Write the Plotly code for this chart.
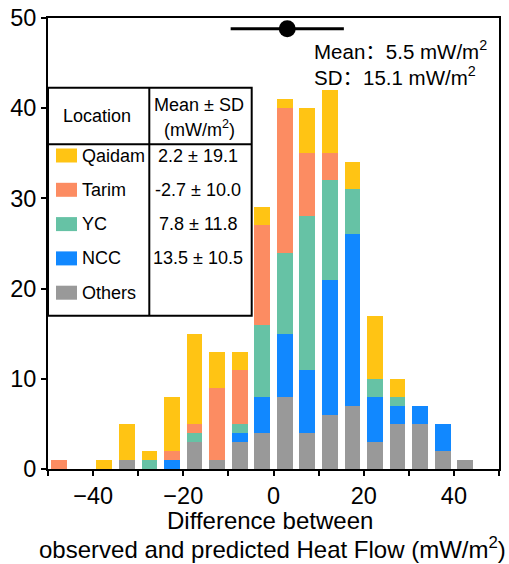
import plotly.graph_objects as go

# ---- data ----
bin_centers = [-47.5, -42.5, -37.5, -32.5, -27.5, -22.5, -17.5, -12.5, -7.5, -2.5,
               2.5, 7.5, 12.5, 17.5, 22.5, 27.5, 32.5, 37.5, 42.5, 47.5]
others = [0, 0, 0, 1, 0, 0, 3, 1, 3, 4, 8, 4, 6, 7, 3, 5, 5, 2, 1, 0]
ncc    = [0, 0, 0, 0, 0, 1, 0, 0, 1, 4, 7, 7, 15, 19, 5, 2, 2, 3, 0, 0]
yc     = [0, 0, 0, 0, 1, 0, 1, 0, 1, 8, 9, 17, 11, 5, 2, 1, 0, 0, 0, 0]
tarim  = [1, 0, 0, 0, 0, 1, 1, 8, 6, 11, 16, 7, 3, 0, 0, 0, 0, 0, 0, 0]
qaidam = [0, 0, 1, 4, 1, 6, 10, 4, 2, 2, 1, 5, 7, 3, 7, 2, 0, 0, 0, 0]

locations = ["Qaidam", "Tarim", "YC", "NCC", "Others"]
loc_stats = ["2.2 ± 19.1", "-2.7 ± 10.0", "7.8 ± 11.8", "13.5 ± 10.5", ""]
colors = {"Qaidam": "#FFC414", "Tarim": "#FC8C62", "YC": "#66C2A5",
          "NCC": "#1188FF", "Others": "#999999"}

overall_marker_x = [3.05]
overall_marker_y = [48.8]
overall_half_width = [12.55]

x_tickvals = [-40, -20, 0, 20, 40]
x_minor_ticks = [-50, -30, -10, 10, 30, 50]
y_tickvals = [0, 10, 20, 30, 40, 50]

FONT = "Liberation Sans, Arial, Noto Sans CJK SC, sans-serif"

fig = go.Figure()
series = [("Others", others), ("NCC", ncc), ("YC", yc), ("Tarim", tarim), ("Qaidam", qaidam)]
for name, vals in series:
    fig.add_trace(go.Bar(x=bin_centers, y=vals, name=name, width=3.5,
                         marker=dict(color=colors[name], line=dict(width=0)),
                         showlegend=False))

fig.add_trace(go.Scatter(x=overall_marker_x, y=overall_marker_y, mode="markers",
                         marker=dict(color="black", size=17),
                         error_x=dict(type="data", array=overall_half_width, symmetric=True,
                                      thickness=3, width=0, color="black"),
                         showlegend=False, cliponaxis=False))

# ---- layout geometry (screen pixels; body margin removed by post_script) ----
W, H = 509, 564
PL, PR, PT, PB = 48, 499, 18, 469          # plot area on screen
L, R, T, B = PL, W - PR, PT, H - PB
pw, ph = PR - PL, PB - PT


def px(x):
    return (x - PL) / pw


def py(y):
    return (PB - y) / ph


shapes = []
# table box
tx0, tx1, tdiv, ty0, ty1, thead = 48, 251.7, 149.3, 87.7, 315.7, 144.3
shapes.append(dict(type="rect", xref="paper", yref="paper", x0=px(tx0), x1=px(tx1),
                   y0=py(ty1), y1=py(ty0), line=dict(color="black", width=2),
                   fillcolor="white", layer="above"))
shapes.append(dict(type="line", xref="paper", yref="paper", x0=px(tdiv), x1=px(tdiv),
                   y0=py(ty1), y1=py(ty0), line=dict(color="black", width=2)))
shapes.append(dict(type="line", xref="paper", yref="paper", x0=px(tx0), x1=px(tx1),
                   y0=py(thead), y1=py(thead), line=dict(color="black", width=2)))

annotations = []
row_y = [155.5, 189.8, 224.1, 258.4, 292.7]
for i, name in enumerate(locations):
    yc_ = row_y[i]
    shapes.append(dict(type="rect", xref="paper", yref="paper", x0=px(56), x1=px(77),
                       y0=py(yc_ + 7), y1=py(yc_ - 7), line=dict(width=0),
                       fillcolor=colors[name], layer="above"))
    annotations.append(dict(text=name, xref="paper", yref="paper", x=px(80), y=py(yc_),
                            xanchor="left", yanchor="middle", showarrow=False,
                            font=dict(family=FONT, size=18, color="black")))
    if loc_stats[i]:
        annotations.append(dict(text=loc_stats[i], xref="paper", yref="paper", x=px(198),
                                y=py(yc_), xanchor="center", yanchor="middle", showarrow=False,
                                font=dict(family=FONT, size=18, color="black")))

annotations.append(dict(text="Location", xref="paper", yref="paper", x=px(96.5), y=py(116.5),
                        xanchor="center", yanchor="middle", showarrow=False,
                        font=dict(family=FONT, size=18, color="black")))
annotations.append(dict(text="Mean ± SD", xref="paper", yref="paper", x=px(199), y=py(105),
                        xanchor="center", yanchor="middle", showarrow=False,
                        font=dict(family=FONT, size=18, color="black")))
annotations.append(dict(text="(mW/m<sup>2</sup>)", xref="paper", yref="paper", x=px(199), y=py(128),
                        xanchor="center", yanchor="middle", showarrow=False,
                        font=dict(family=FONT, size=18, color="black")))

annotations.append(dict(text="Mean：5.5 mW/m<sup>2</sup>", xref="paper", yref="paper",
                        x=px(312), y=py(50), xanchor="left", yanchor="middle", showarrow=False,
                        font=dict(family=FONT, size=20.5, color="black")))
annotations.append(dict(text="SD：15.1 mW/m<sup>2</sup>", xref="paper", yref="paper",
                        x=px(312), y=py(76), xanchor="left", yanchor="middle", showarrow=False,
                        font=dict(family=FONT, size=20.5, color="black")))

annotations.append(dict(text="Difference between",
                        xref="paper", yref="paper", x=px(270), y=py(520), xanchor="center",
                        yanchor="middle", showarrow=False,
                        font=dict(family=FONT, size=24, color="black")))
annotations.append(dict(text="observed and predicted Heat Flow (mW/m<sup>2</sup>)",
                        xref="paper", yref="paper", x=px(272), y=py(548), xanchor="center",
                        yanchor="middle", showarrow=False,
                        font=dict(family=FONT, size=24, color="black")))

fig.update_layout(
    width=W, height=H, autosize=False,
    margin=dict(l=L, r=R, t=T, b=B, pad=0),
    barmode="stack",
    plot_bgcolor="white", paper_bgcolor="white",
    font=dict(family=FONT, size=22, color="black"),
    shapes=shapes, annotations=annotations,
    xaxis=dict(range=[-50, 50], tickvals=x_tickvals,
               ticks="outside", ticklen=5, tickwidth=2, tickcolor="black",
               minor=dict(tickvals=x_minor_ticks, ticks="outside", ticklen=5,
                          tickwidth=2, tickcolor="black", showgrid=False),
               showline=True, linecolor="black", linewidth=2, mirror=True,
               showgrid=False, zeroline=False, tickfont=dict(size=23.5),
               automargin=False),
    yaxis=dict(range=[0, 50], tickvals=y_tickvals,
               ticks="outside", ticklen=5, tickwidth=2, tickcolor="black",
               showline=True, linecolor="black", linewidth=2, mirror=True,
               showgrid=False, zeroline=False, tickfont=dict(size=23.5),
               automargin=False),
)

fig.write_html("out.html", config={"displayModeBar": False},
               post_script="document.body.style.margin='0';document.body.style.overflow='hidden';")
